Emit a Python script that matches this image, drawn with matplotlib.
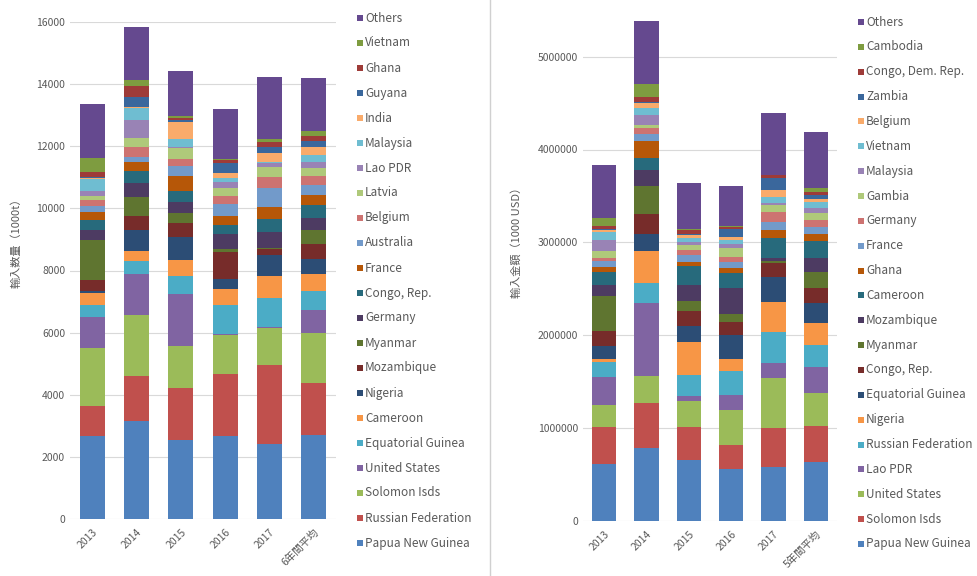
import matplotlib
matplotlib.use("Agg")
import matplotlib.pyplot as plt
from matplotlib.patches import Rectangle
from matplotlib.lines import Line2D
import numpy as np

plt.rcParams['font.family'] = ['Noto Sans CJK JP', 'DejaVu Sans']

# Office-style series palette (base, darker, lighter, darkest)
palette = ['#4F81BD', '#C0504D', '#9BBB59', '#8064A2', '#4BACC6', '#F79646',
           '#2C4D75', '#772C2A', '#5F7530', '#4D3B62', '#276A7C', '#B65708',
           '#729ACA', '#CD7371', '#AFC97A', '#9983B5', '#6FBDD1', '#F9AB6B',
           '#3A679C', '#9E3B38', '#7E9C40', '#65498F']

# Import volume (1000 t), stacked from the bottom
vol_countries = ['Papua New Guinea', 'Russian Federation', 'Solomon Isds', 'United States',
                 'Equatorial Guinea', 'Cameroon', 'Nigeria', 'Mozambique', 'Myanmar',
                 'Germany', 'Congo, Rep.', 'France', 'Australia', 'Belgium', 'Latvia',
                 'Lao PDR', 'Malaysia', 'India', 'Guyana', 'Ghana', 'Vietnam', 'Others']
vol_years = ['2013', '2014', '2015', '2016', '2017', '6年間平均']
vol_2013 = [2670, 966, 1867, 999, 386, 386, 60, 350, 1300, 310, 320, 280, 180, 180, 140, 160, 380, 30, 60, 150, 460, 1717]
vol_2014 = [3165, 1439, 1964, 1310, 438, 313, 676, 460, 612, 431, 406, 290, 161, 322, 270, 590, 377, 50, 322, 341, 194, 1720]
vol_2015 = [2543, 1665, 1372, 1660, 567, 515, 741, 463, 322, 355, 341, 483, 324, 235, 346, 40, 258, 536, 64, 80, 50, 1449]
vol_2016 = [2672, 1996, 1256, 20, 943, 528, 300, 892, 74, 483, 300, 290, 377, 267, 270, 181, 140, 161, 321, 90, 40, 1588]
vol_2017 = [2400, 2550, 1210, 20, 943, 699, 676, 205, 30, 495, 429, 396, 592, 353, 343, 129, 30, 280, 183, 181, 86, 1990]
vol_avg = [2704, 1684, 1591, 750, 621, 538, 483, 473, 461, 376, 429, 321, 322, 290, 268, 193, 215, 247, 204, 161, 171, 1686]

# Import value (1000 USD), stacked from the bottom
val_countries = ['Papua New Guinea', 'Solomon Isds', 'United States', 'Lao PDR',
                 'Russian Federation', 'Nigeria', 'Equatorial Guinea', 'Congo, Rep.',
                 'Myanmar', 'Mozambique', 'Cameroon', 'Ghana', 'France', 'Germany',
                 'Gambia', 'Malaysia', 'Vietnam', 'Belgium', 'Zambia', 'Congo, Dem. Rep.',
                 'Cambodia', 'Others']
val_years = ['2013', '2014', '2015', '2016', '2017', '5年間平均']
val_2013 = [611, 402, 234, 298, 168, 29, 136, 169, 377, 115, 144, 46, 65, 32, 83, 119, 78, 27, 10, 28, 86, 579]
val_2014 = [780, 485, 294, 784, 215, 348, 180, 216, 308, 169, 126, 187, 72, 64, 36, 108, 72, 54, 10, 60, 137, 682]
val_2015 = [654, 359, 280, 51, 226, 351, 172, 169, 108, 169, 201, 43, 79, 57, 50, 36, 36, 37, 10, 44, 10, 495]
val_2016 = [554, 262, 377, 162, 258, 129, 259, 137, 86, 280, 162, 60, 65, 54, 97, 36, 47, 35, 88, 20, 5, 439]
val_2017 = [582, 414, 538, 162, 334, 330, 269, 150, 15, 35, 215, 90, 89, 108, 70, 20, 71, 73, 126, 30, 5, 665]
val_avg = [636, 388, 349, 280, 240, 234, 216, 168, 172, 151, 180, 72, 82, 72, 73, 53, 65, 36, 43, 35, 43, 597]

W, H = 978, 576
fig = plt.figure(figsize=(W / 100, H / 100), dpi=100)
grey = '#595959'
grid = '#D9D9D9'


def stacked(ax, years, countries, table, width):
    data = np.array(table, dtype=float).T  # rows: countries, cols: years
    x = np.arange(len(years))
    bottom = np.zeros(len(years))
    for i, name in enumerate(countries):
        ax.bar(x, data[i], width, bottom=bottom, color=palette[i], linewidth=0, label=name, zorder=2)
        bottom += data[i]
    ax.set_xlim(-0.5, len(years) - 0.5)
    ax.set_xticks(x)
    ax.set_xticklabels(years, rotation=45, ha='right', rotation_mode='anchor', fontsize=7.5, color=grey)
    ax.tick_params(length=0, labelsize=7.5, colors=grey)
    ax.tick_params(axis='x', pad=6)
    for s in ax.spines.values():
        s.set_visible(False)
    ax.grid(axis='y', color=grid, linewidth=0.8, zorder=0)
    ax.set_axisbelow(True)


def legend(countries, x_px, top_px, bottom_px):
    n = len(countries)
    step = (bottom_px - top_px) / (n - 1)
    for k, i in enumerate(range(n - 1, -1, -1)):
        yc = top_px + k * step
        fig.add_artist(Rectangle((x_px / W, 1 - (yc + 3) / H), 6 / W, 6 / H,
                                 transform=fig.transFigure, color=palette[i], lw=0))
        fig.text((x_px + 8) / W, 1 - yc / H, countries[i], fontsize=8.5, color=grey,
                 va='center', ha='left')


# Left panel: volume
ax1 = fig.add_axes([70 / W, 57 / H, 266 / W, 497 / H])
stacked(ax1, vol_years, vol_countries,
        [vol_2013, vol_2014, vol_2015, vol_2016, vol_2017, vol_avg], 0.56)
ax1.set_ylim(0, 16000)
ax1.set_yticks(np.arange(0, 16001, 2000))
ax1.set_ylabel('輸入数量（1000t）', fontsize=8, color=grey)
ax1.yaxis.set_label_coords(-0.184, 0.56)
legend(vol_countries, 357, 18, 543)

# Right panel: value
ax2 = fig.add_axes([583 / W, 55.3 / H, 254 / W, 510.4 / H])
stacked(ax2, val_years, val_countries,
        [[v * 1000 for v in val_2013], [v * 1000 for v in val_2014],
         [v * 1000 for v in val_2015], [v * 1000 for v in val_2016],
         [v * 1000 for v in val_2017], [v * 1000 for v in val_avg]], 0.57)
ax2.set_ylim(0, 5500000)
ax2.set_yticks(np.arange(0, 5000001, 1000000))
ax2.set_yticklabels([str(v) for v in range(0, 5000001, 1000000)])
ax2.set_ylabel('輸入金額（1000 USD）', fontsize=8, color=grey)
ax2.yaxis.set_label_coords(-0.24, 0.55)
legend(val_countries, 858, 22, 544)

# divider between the two panels
fig.add_artist(Line2D([490 / W, 490 / W], [0, 1], transform=fig.transFigure, color='#D0D0D0', lw=1))

fig.savefig('out.png', dpi=100)
